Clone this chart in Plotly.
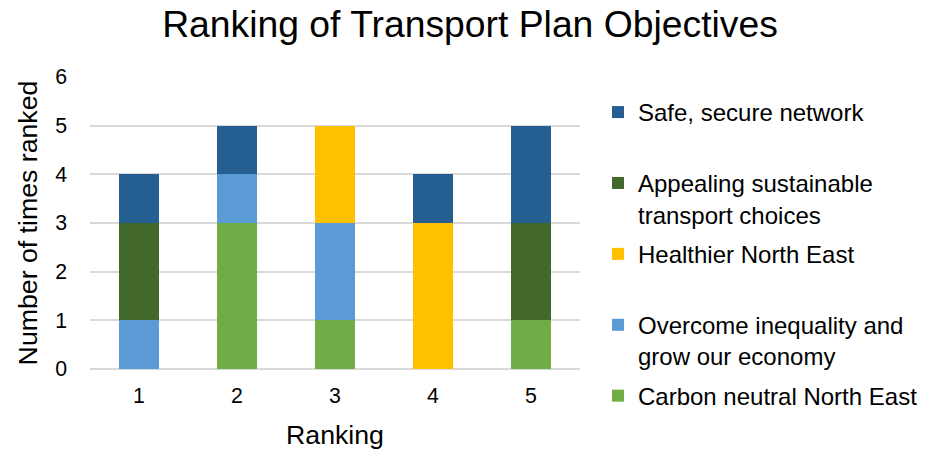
import plotly.graph_objects as go

rankings = ["1", "2", "3", "4", "5"]
series_names = [
    "Carbon neutral North East",
    "Overcome inequality and<br>grow our economy",
    "Healthier North East",
    "Appealing sustainable<br>transport choices",
    "Safe, secure network",
]
carbon = [0, 3, 1, 0, 1]
overcome = [1, 1, 2, 0, 0]
healthier = [0, 0, 2, 3, 0]
appealing = [2, 0, 0, 0, 2]
safe = [1, 1, 0, 1, 2]
colors = ["#70AD47", "#5B9BD5", "#FFC000", "#43682B", "#255E91"]
y_ticks = [0, 1, 2, 3, 4, 5, 6]

values = [carbon, overcome, healthier, appealing, safe]

fig = go.Figure()
n = len(series_names)
for i, (name, vals, col) in enumerate(zip(series_names, values, colors)):
    label = name if "<br>" in name else name + "<br> "
    fig.add_trace(go.Bar(
        x=rankings, y=vals, name=label, marker_color=col,
        marker_line_width=0, legendgroup=f"g{i}", legendrank=n - i,
    ))

font = "Liberation Sans, Arial, sans-serif"
fig.update_layout(
    barmode="stack",
    bargap=0.59,
    width=924, height=444,
    margin=dict(l=82, r=352, t=69, b=83, autoexpand=False),
    paper_bgcolor="white", plot_bgcolor="white",
    font=dict(family=font, color="black"),
    title=dict(text="Ranking of Transport Plan Objectives", x=0.5, xanchor="center",
               y=0.964, yanchor="middle", font=dict(size=37.3, color="black", family=font)),
    xaxis=dict(title=dict(text="Ranking", font=dict(size=26.7, color="black"), standoff=18),
               tickfont=dict(size=21.3, color="black"), showgrid=False, automargin=False,
               showline=False, ticks="", ticklabelstandoff=12),
    yaxis=dict(title=dict(text="Number of times ranked", font=dict(size=26.7, color="black"), standoff=9),
               tickfont=dict(size=21.3, color="black"), range=[0, 6], tickvals=y_ticks, automargin=False,
               showgrid=True, gridcolor="#D9D9D9", gridwidth=2, zeroline=True,
               zerolinecolor="#D9D9D9", zerolinewidth=2, ticks="", ticklabelstandoff=22),
    legend=dict(x=1.0367, xanchor="left", y=0.9556, yanchor="top",
                font=dict(size=24, color="black", family=font),
                traceorder="grouped", tracegroupgap=5.5, valign="top",
                itemwidth=30, bgcolor="rgba(0,0,0,0)", maxheight=430),
)

fig.write_html("out.html")
